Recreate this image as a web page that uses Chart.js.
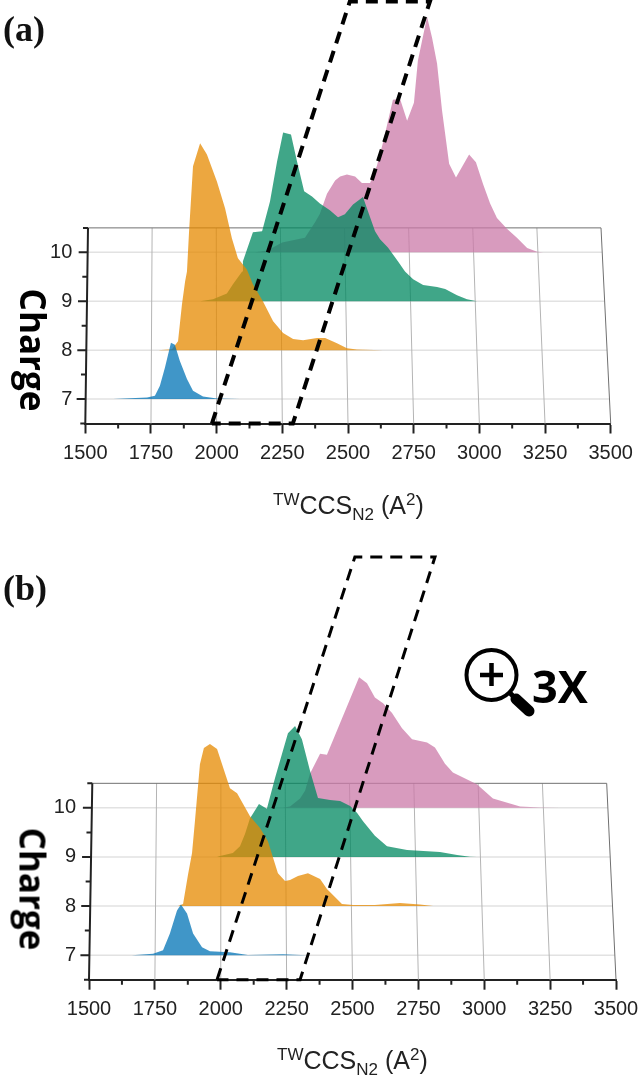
<!DOCTYPE html>
<html>
<head>
<meta charset="utf-8">
<title>TW CCS charge ridges</title>
<script src="https://cdn.jsdelivr.net/npm/chart.js@4"></script>
<style>
  html, body { margin: 0; padding: 0; background: #fff; }
  #page { position: relative; width: 638px; height: 1079px; overflow: hidden; }
  canvas { position: absolute; left: 0; }
  .panel { position: absolute; left: 3px; font: bold 36px "Liberation Serif", serif; color: #111; }
  .charge { position: absolute; font: bold 35px "Open Sans", sans-serif; color: #000; transform: translate(-50%, -50%) rotate(90deg); white-space: nowrap; }
  .xtitle { position: absolute; font: 25px "Liberation Sans", sans-serif; color: #222; white-space: nowrap; }
  .xtitle sup, .xtitle sub { font-size: 17px; line-height: 0; }
  .zoomx { position: absolute; left: 532px; top: 655px; font: bold 45px "Open Sans", sans-serif; color: #000; }
  svg { position: absolute; left: 460px; top: 640px; }
</style>
</head>
<body>
<div id="page">
  <canvas id="chartA" width="638" height="530" style="top:0"></canvas>
  <canvas id="chartB" width="638" height="549" style="top:530px"></canvas>
  <div class="panel" style="top:8px">(a)</div>
  <div class="panel" style="top:567px">(b)</div>
  <div class="charge" style="left:33px;top:350px">Charge</div>
  <div class="charge" style="left:33px;top:889px">Charge</div>
  <div class="xtitle" style="left:273px;top:491px"><sup>TW</sup>CCS<sub>N2</sub> (A<sup>2</sup>)</div>
  <div class="xtitle" style="left:277px;top:1046px"><sup>TW</sup>CCS<sub>N2</sub> (A<sup>2</sup>)</div>
  <svg width="80" height="80" viewBox="0 0 80 80">
    <circle cx="31.5" cy="35" r="25" fill="none" stroke="#000" stroke-width="4"></circle>
    <path d="M31.5 23V46M20 35H43" stroke="#000" stroke-width="4.5" fill="none"></path>
    <path d="M49 52L56 59" stroke="#000" stroke-width="5" fill="none"></path>
    <path d="M56 59L69 71" stroke="#000" stroke-width="11" stroke-linecap="round" fill="none"></path>
  </svg>
  <div class="zoomx">3X</div>
</div>

<script>
const chargeTicks = [7, 8, 9, 10];
const xTickStep = 250;

const blue = "rgba(0,115,181,0.75)";
const orange = "rgba(229,137,0,0.75)";
const green = "rgba(0,136,96,0.75)";
const pink = "rgba(203,122,168,0.75)";

// panel a
const ccsA7 = [1606, 1735, 1765, 1784, 1803, 1826, 1841, 1860, 1887, 1910, 1948, 2001, 2089];
const intA7 = [0, 0.03, 0.07, 0.27, 0.64, 1.15, 1.11, 0.78, 0.41, 0.17, 0.05, 0.01, 0];
const ccsA8 = [1777, 1830, 1853, 1868, 1880, 1887, 1895, 1910, 1937, 1963, 2001, 2032, 2058, 2081, 2115, 2138, 2176, 2215, 2253, 2291, 2329, 2382, 2413, 2458, 2496, 2534, 2633];
const intA8 = [0, 0.02, 0.18, 0.94, 1.41, 1.61, 2.43, 3.76, 4.23, 4.0, 3.45, 2.9, 2.29, 1.88, 1.65, 1.35, 1.0, 0.59, 0.35, 0.23, 0.2, 0.25, 0.25, 0.14, 0.04, 0.015, 0];
const ccsA9 = [1937, 1986, 2039, 2062, 2097, 2100, 2138, 2173, 2203, 2230, 2253, 2283, 2306, 2333, 2363, 2393, 2431, 2462, 2488, 2519, 2557, 2576, 2603, 2622, 2652, 2690, 2717, 2748, 2786, 2839, 2870, 2915, 2953, 2991, 3014];
const intA9 = [0, 0.04, 0.16, 0.35, 0.61, 0.82, 1.41, 1.43, 2.04, 2.86, 3.45, 3.41, 2.86, 2.25, 2.14, 2.0, 1.86, 1.72, 1.78, 1.98, 2.13, 1.84, 1.43, 1.27, 1.1, 0.82, 0.61, 0.45, 0.33, 0.29, 0.25, 0.12, 0.04, 0, 0];
const ccsA10 = [2146, 2192, 2249, 2336, 2374, 2393, 2420, 2451, 2470, 2496, 2527, 2553, 2584, 2610, 2633, 2671, 2698, 2725, 2751, 2766, 2801, 2820, 2839, 2858, 2885, 2911, 2961, 2987, 3014, 3041, 3067, 3105, 3143, 3182, 3220, 3243];
const intA10 = [0, 0.03, 0.2, 0.3, 0.61, 0.79, 1.2, 1.47, 1.55, 1.59, 1.55, 1.42, 1.42, 1.77, 2.24, 3.12, 3.14, 2.69, 3.06, 3.92, 4.82, 4.39, 3.86, 2.9, 1.81, 1.53, 2.0, 1.84, 1.4, 1.0, 0.7, 0.48, 0.3, 0.09, 0.01, 0];
const boxAx = [1982, 2507, 2812, 2290, 1982];
const boxAy = [6.5, 15.13, 15.13, 6.5, 6.5];

// panel b
const ccsB7 = [1663, 1743, 1781, 1807, 1834, 1849, 1872, 1895, 1929, 1959, 2035, 2103, 2236, 2327];
const intB7 = [0, 0.03, 0.1, 0.44, 0.91, 1.03, 0.85, 0.44, 0.16, 0.08, 0.06, 0.004, 0.02, 0];
const ccsB8 = [1838, 1857, 1876, 1891, 1902, 1921, 1936, 1959, 1986, 2035, 2062, 2111, 2149, 2179, 2217, 2244, 2263, 2293, 2331, 2377, 2403, 2460, 2502, 2585, 2680, 2756, 2806];
const intB8 = [0, 0.04, 0.65, 1.08, 1.73, 2.89, 3.22, 3.3, 3.2, 2.4, 2.3, 1.83, 1.59, 1.32, 0.67, 0.51, 0.53, 0.61, 0.67, 0.55, 0.35, 0.04, 0.02, 0.02, 0.06, 0.03, 0];
const ccsB9 = [1986, 1997, 2046, 2073, 2092, 2111, 2122, 2145, 2175, 2206, 2255, 2282, 2308, 2339, 2369, 2415, 2453, 2491, 2517, 2540, 2585, 2631, 2707, 2832, 2897, 2946, 2972];
const intB9 = [0, 0.02, 0.08, 0.22, 0.47, 0.79, 0.88, 1.08, 0.98, 1.61, 2.52, 2.67, 2.4, 1.75, 1.2, 1.16, 1.14, 1.04, 0.9, 0.73, 0.43, 0.22, 0.14, 0.1, 0.04, 0.006, 0];
const ccsB10 = [2236, 2263, 2301, 2320, 2339, 2377, 2403, 2525, 2555, 2585, 2616, 2650, 2688, 2726, 2783, 2813, 2851, 2881, 2972, 3033, 3136, 3212, 3288];
const intB10 = [0, 0.03, 0.19, 0.35, 0.7, 1.1, 1.08, 2.66, 2.54, 2.25, 2.13, 1.93, 1.62, 1.4, 1.33, 1.23, 0.9, 0.72, 0.48, 0.19, 0.03, 0.006, 0];
const boxBx = [1986, 2509, 2813, 2301, 1986];
const boxBy = [6.5, 15.11, 15.11, 6.5, 6.5];

function ridge(label, ccs, heights, charge, color) {
  return {
    label,
    data: ccs.map((x, i) => ({ x, y: charge + heights[i] })),
    borderWidth: 0,
    pointRadius: 0,
    backgroundColor: color,
    fill: { value: charge },
  };
}

function dashedBox(xs, ys, width) {
  return {
    label: "window",
    data: xs.map((x, i) => ({ x, y: ys[i] })),
    borderColor: "#000",
    borderWidth: width,
    borderDash: [12, 8],
    pointRadius: 0,
    fill: false,
    clip: false,
  };
}

// the back plane of the 3D box is narrower than the x axis, library has no option for that
const planeGrid = {
  id: "planeGrid",
  beforeDatasetsDraw(chart, args, opts) {
    const { ctx, scales: { x, y } } = chart;
    const bottom = y.getPixelForValue(6.5);
    const top = y.getPixelForValue(10.5);
    const xAt = (v, py) => {
      const t = (bottom - py) / (bottom - top);
      const span = x.right - x.left;
      const f = (x.getPixelForValue(v) - x.left) / span;
      return x.getPixelForValue(v) + t * (opts.insetLeft * (1 - f) - opts.insetRight * f);
    };
    ctx.save();
    ctx.lineWidth = 1.5;
    ctx.strokeStyle = "#e2e2e2";
    chargeTicks.forEach((c) => {
      const py = y.getPixelForValue(c);
      ctx.beginPath();
      ctx.moveTo(xAt(1500, py), py);
      ctx.lineTo(xAt(3500, py), py);
      ctx.stroke();
    });
    ctx.lineWidth = 1;
    ctx.strokeStyle = "#b4b4b4";
    for (let v = 1750; v < 3500; v += xTickStep) {
      ctx.beginPath();
      ctx.moveTo(xAt(v, bottom), bottom);
      ctx.lineTo(xAt(v, top), top);
      ctx.stroke();
    }
    ctx.strokeStyle = "#707070";
    ctx.beginPath();
    ctx.moveTo(xAt(3500, bottom), bottom);
    ctx.lineTo(xAt(3500, top), top);
    ctx.moveTo(xAt(1500, top), top);
    ctx.lineTo(xAt(3500, top), top);
    ctx.stroke();

    // y axis with its ticks
    ctx.strokeStyle = "#222";
    ctx.lineWidth = 2;
    ctx.beginPath();
    ctx.moveTo(xAt(1500, bottom), bottom);
    ctx.lineTo(xAt(1500, top), top);
    for (let c = 6.5; c <= 10.5; c += 0.5) {
      const py = y.getPixelForValue(c);
      const len = Number.isInteger(c) ? 9 : 5;
      ctx.moveTo(xAt(1500, py), py);
      ctx.lineTo(xAt(1500, py) - len, py);
    }
    // minor x ticks
    for (let v = 1625; v < 3500; v += xTickStep) {
      ctx.moveTo(x.getPixelForValue(v), bottom);
      ctx.lineTo(x.getPixelForValue(v), bottom + 5);
    }
    ctx.stroke();
    ctx.restore();
  },
};

function makeChart(id, datasets, yMax, xAxisHeight, left, rightPad, insetLeft, insetRight) {
  return new Chart(document.getElementById(id), {
    type: "line",
    data: { datasets },
    plugins: [planeGrid],
    options: {
      responsive: false,
      animation: false,
      layout: { padding: { right: rightPad } },
      plugins: {
        legend: { display: false },
        tooltip: { enabled: false },
        planeGrid: { insetLeft, insetRight },
      },
      scales: {
        x: {
          type: "linear",
          min: 1500,
          max: 3500,
          afterFit(scale) {
            scale.height = xAxisHeight;
            scale.paddingLeft = 0;
            scale.paddingRight = 0;
          },
          border: { display: true, color: "#222", width: 2 },
          grid: { drawOnChartArea: false, tickLength: 10, tickColor: "#222", tickWidth: 2 },
          ticks: {
            stepSize: xTickStep,
            maxRotation: 0,
            autoSkip: false,
            padding: 8,
            color: "#222",
            font: { family: "Liberation Sans", size: 20 },
            callback: (v) => String(v),
          },
        },
        y: {
          type: "linear",
          min: 6.5,
          max: yMax,
          afterBuildTicks(scale) {
            scale.ticks = chargeTicks.map((value) => ({ value }));
          },
          afterFit(scale) {
            scale.width = left;
            scale.paddingTop = 0;
            scale.paddingBottom = 0;
          },
          border: { display: false },
          grid: { display: false, drawTicks: false },
          ticks: {
            autoSkip: false,
            padding: 13,
            color: "#222",
            font: { family: "Liberation Sans", size: 20 },
            callback: (v) => String(v),
          },
        },
      },
    },
  });
}

// first dataset is painted last, so front to back
makeChart("chartA", [
  dashedBox(boxAx, boxAy, 4),
  ridge("7+", ccsA7, intA7, 7, blue),
  ridge("8+", ccsA8, intA8, 8, orange),
  ridge("9+", ccsA9, intA9, 9, green),
  ridge("10+", ccsA10, intA10, 10, pink),
], 15.16, 106.5, 85.3, 27.3, 2.7, 9.7);

makeChart("chartB", [
  dashedBox(boxBx, boxBy, 3),
  ridge("7+", ccsB7, intB7, 7, blue),
  ridge("8+", ccsB8, intB8, 8, orange),
  ridge("9+", ccsB9, intB9, 9, green),
  ridge("10+", ccsB10, intB10, 10, pink),
], 15.66, 99.3, 89, 22, 3.3, 9.3);
</script>
</body>
</html>
